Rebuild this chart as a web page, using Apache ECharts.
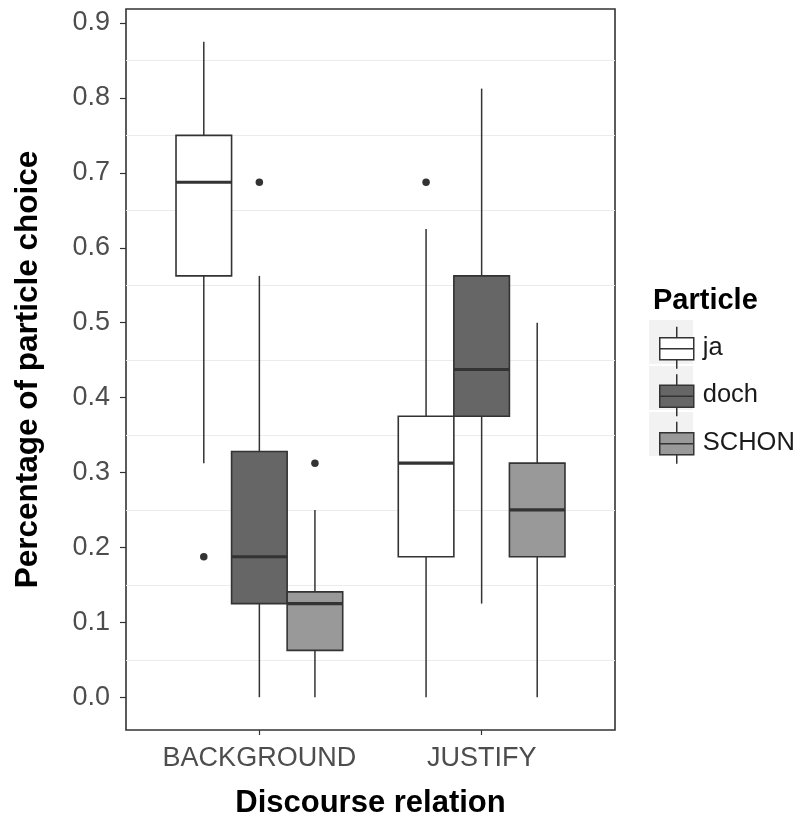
<!DOCTYPE html>
<html>
<head>
<meta charset="utf-8">
<script src="https://cdn.jsdelivr.net/npm/echarts@6/dist/echarts.min.js"></script>
<style>
  html, body { margin: 0; padding: 0; background: #fff; }
  #chart { width: 797px; height: 818px; }
</style>
</head>
<body>
<div id="chart"></div>
<script>
// ---- data ----
const categories = ['BACKGROUND', 'JUSTIFY'];
const particles = ['ja', 'doch', 'SCHON'];
// per category: [lower whisker, Q1, median, Q3, upper whisker]
const jaStats    = [[0.3125, 0.5625, 0.6875, 0.75, 0.875], [0, 0.1875, 0.3125, 0.375, 0.625]];
const dochStats  = [[0, 0.125, 0.1875, 0.328, 0.5625], [0.125, 0.375, 0.4375, 0.5625, 0.8125]];
const schonStats = [[0, 0.0625, 0.125, 0.1406, 0.25], [0, 0.1875, 0.25, 0.3125, 0.5]];
// per category: outlier values
const jaOutliers    = [[0.1875], [0.6875]];
const dochOutliers  = [[0.6875], []];
const schonOutliers = [[0.3125], []];
const yTicks = [0, 0.1, 0.2, 0.3, 0.4, 0.5, 0.6, 0.7, 0.8, 0.9];
const yGridValues = [0.05, 0.15, 0.25, 0.35, 0.45, 0.55, 0.65, 0.75, 0.85];

const fills = ['#ffffff', '#666666', '#999999'];
const statsByParticle = [jaStats, dochStats, schonStats];
const outliersByParticle = [jaOutliers, dochOutliers, schonOutliers];
const dodge = 0.25;      // ggplot dodge width per box (0.75 / 3)
const FONT = 'Liberation Sans, Arial, sans-serif';
const LINE = '#333333';

function xPos(catIdx, pIdx) { return catIdx + 1 + (pIdx - 1) * dodge; }

function renderBox(params, api) {
  const x = api.value(0);
  const lo = api.coord([x, api.value(1)]);
  const q1 = api.coord([x, api.value(2)]);
  const med = api.coord([x, api.value(3)]);
  const q3 = api.coord([x, api.value(4)]);
  const hi = api.coord([x, api.value(5)]);
  const w = api.size([dodge, 0])[0];
  const cx = med[0];
  return {
    type: 'group',
    children: [
      { type: 'line', shape: { x1: cx, y1: lo[1], x2: cx, y2: q1[1] }, style: { stroke: LINE, lineWidth: 1.5 } },
      { type: 'line', shape: { x1: cx, y1: q3[1], x2: cx, y2: hi[1] }, style: { stroke: LINE, lineWidth: 1.5 } },
      { type: 'rect', shape: { x: cx - w / 2, y: q3[1], width: w, height: q1[1] - q3[1] },
        style: { fill: api.visual('color'), stroke: LINE, lineWidth: 1.6 } },
      { type: 'line', shape: { x1: cx - w / 2, y1: med[1], x2: cx + w / 2, y2: med[1] }, style: { stroke: LINE, lineWidth: 3.2 } }
    ]
  };
}

const series = [];
particles.forEach(function (p, pi) {
  series.push({
    name: p,
    type: 'custom',
    renderItem: renderBox,
    itemStyle: { color: fills[pi] },
    encode: { x: 0, y: [1, 2, 3, 4, 5] },
    data: statsByParticle[pi].map(function (s, ci) { return [xPos(ci, pi)].concat(s); }),
    z: 2
  });
});
particles.forEach(function (p, pi) {
  const pts = [];
  outliersByParticle[pi].forEach(function (vals, ci) {
    vals.forEach(function (v) { pts.push([xPos(ci, pi), v]); });
  });
  series.push({
    name: p + ' outliers',
    type: 'scatter',
    symbol: 'circle',
    symbolSize: 7.5,
    itemStyle: { color: '#000' },
    data: pts,
    z: 3
  });
});

const keyIcon = 'path://M17,0L17,11M0,11L34,11L34,33L0,33ZM0,22L34,22M17,33L17,42';

const chart = echarts.init(document.getElementById('chart'), null, { renderer: 'canvas' });
chart.setOption({
  animation: false,
  backgroundColor: '#ffffff',
  title: {
    text: 'Particle',
    left: 648, top: 281,
    textStyle: { fontFamily: FONT, fontSize: 29, fontWeight: 'bold', color: '#000' }
  },
  graphic: [0, 1, 2].map(function (i) {
    return { type: 'rect', left: 649, top: 320 + i * 46, shape: { width: 44, height: 44 }, style: { fill: '#f2f2f2' }, z: 0 };
  }),
  legend: {
    orient: 'vertical',
    left: 654, top: 321,
    itemWidth: 34, itemHeight: 42, itemGap: 4,
    data: particles.map(function (p) { return { name: p, icon: keyIcon }; }),
    itemStyle: { borderColor: LINE, borderWidth: 1.5 },
    textStyle: { fontFamily: FONT, fontSize: 25.5, color: '#1a1a1a', padding: [0, 0, 0, 4] },
    z: 5
  },
  grid: {
    left: 126, top: 9, width: 489, height: 721,
    outerBoundsMode: 'none', containLabel: false,
    show: true, borderColor: '#333', borderWidth: 1.6, backgroundColor: '#fff'
  },
  xAxis: {
    type: 'value', min: 0.4, max: 2.6,
    name: 'Discourse relation', nameLocation: 'middle', nameGap: 58,
    nameTextStyle: { fontFamily: FONT, fontSize: 31, fontWeight: 'bold', color: '#000' },
    axisLine: { show: false, onZero: false },
    axisTick: { show: true, length: 5, lineStyle: { color: '#333', width: 1.2 }, customValues: [1, 2] },
    axisLabel: {
      customValues: [1, 2], margin: 15,
      fontFamily: FONT, fontSize: 27, color: '#4d4d4d',
      formatter: function (v) { return categories[Math.round(v) - 1]; }
    },
    splitLine: { show: false }
  },
  yAxis: [{
    type: 'value', min: -0.04375, max: 0.91875,
    name: 'Percentage of particle choice', nameLocation: 'middle', nameGap: 82,
    nameTextStyle: { fontFamily: FONT, fontSize: 31.5, fontWeight: 'bold', color: '#000' },
    axisLine: { show: false, onZero: false },
    axisTick: { show: true, length: 6, lineStyle: { color: '#333', width: 1.2 }, customValues: yTicks },
    axisLabel: {
      customValues: yTicks, margin: 16,
      fontFamily: FONT, fontSize: 27, color: '#4d4d4d',
      formatter: function (v) { return v.toFixed(1); }
    },
    splitLine: { show: false }
  }, {
    type: 'value', min: -0.04375, max: 0.91875, position: 'left',
    axisLine: { show: false, onZero: false },
    axisTick: { show: false, customValues: yGridValues },
    axisLabel: { show: false },
    splitLine: { show: true, lineStyle: { color: '#ebebeb', width: 1.2 } }
  }],
  series: series
});
</script>
</body>
</html>
